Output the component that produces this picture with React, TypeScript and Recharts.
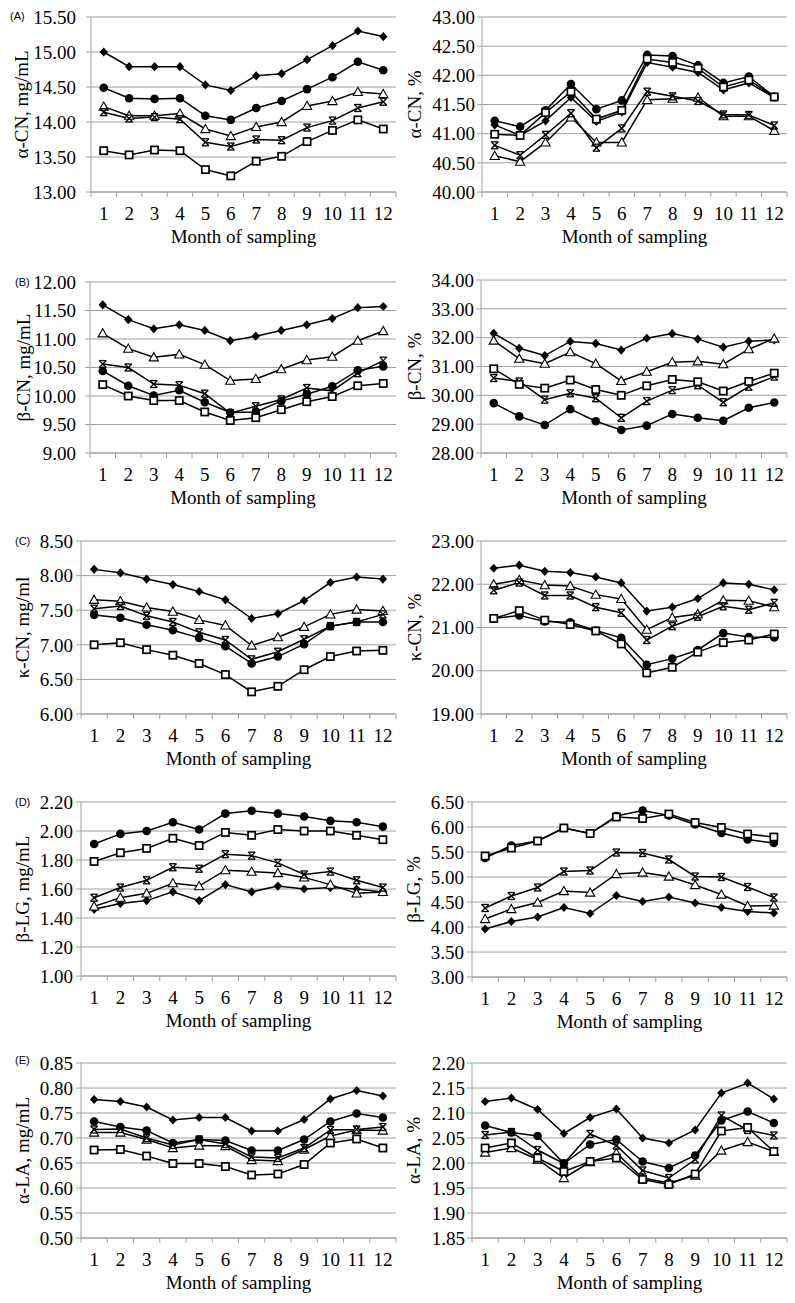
import React from 'react'
import { LineChart, Line, XAxis, YAxis, CartesianGrid } from 'recharts'

const months = [1, 2, 3, 4, 5, 6, 7, 8, 9, 10, 11, 12]

// (A) α-CN, mg/mL
const aCnMgDiamond = [15.0, 14.79, 14.79, 14.79, 14.53, 14.45, 14.66, 14.69, 14.89, 15.09, 15.3, 15.22]
const aCnMgCircle = [14.49, 14.34, 14.33, 14.34, 14.09, 14.03, 14.2, 14.3, 14.47, 14.64, 14.86, 14.74]
const aCnMgTriangle = [14.22, 14.09, 14.09, 14.12, 13.9, 13.8, 13.93, 14.0, 14.23, 14.3, 14.43, 14.4]
const aCnMgStar = [14.14, 14.05, 14.07, 14.04, 13.71, 13.65, 13.75, 13.74, 13.92, 14.02, 14.2, 14.29]
const aCnMgSquare = [13.59, 13.53, 13.6, 13.59, 13.32, 13.23, 13.44, 13.51, 13.72, 13.88, 14.03, 13.9]

// α-CN, %
const aCnPctDiamond = [41.15, 40.97, 41.22, 41.62, 41.21, 41.37, 42.22, 42.14, 42.05, 41.75, 41.87, 41.62]
const aCnPctCircle = [41.22, 41.12, 41.4, 41.85, 41.42, 41.57, 42.35, 42.33, 42.17, 41.87, 41.98, 41.63]
const aCnPctTriangle = [40.62, 40.52, 40.85, 41.28, 40.85, 40.85, 41.58, 41.6, 41.62, 41.3, 41.3, 41.05]
const aCnPctStar = [40.8, 40.63, 40.98, 41.35, 40.76, 41.09, 41.72, 41.64, 41.56, 41.33, 41.32, 41.14]
const aCnPctSquare = [40.99, 40.97, 41.36, 41.72, 41.25, 41.4, 42.28, 42.22, 42.12, 41.8, 41.92, 41.63]

// (B) β-CN, mg/mL
const bCnMgDiamond = [11.6, 11.34, 11.18, 11.25, 11.15, 10.97, 11.05, 11.15, 11.25, 11.36, 11.55, 11.57]
const bCnMgCircle = [10.44, 10.18, 10.01, 10.1, 9.89, 9.71, 9.72, 9.91, 10.03, 10.17, 10.45, 10.52]
const bCnMgTriangle = [11.1, 10.83, 10.68, 10.73, 10.55, 10.27, 10.3, 10.47, 10.63, 10.69, 10.97, 11.14]
const bCnMgStar = [10.56, 10.5, 10.21, 10.19, 10.04, 9.7, 9.82, 9.94, 10.14, 10.09, 10.4, 10.62]
const bCnMgSquare = [10.2, 10.0, 9.92, 9.92, 9.72, 9.57, 9.62, 9.76, 9.9, 9.99, 10.18, 10.22]

// β-CN, %
const bCnPctDiamond = [32.15, 31.63, 31.38, 31.87, 31.8, 31.57, 31.98, 32.14, 31.95, 31.67, 31.88, 31.92]
const bCnPctCircle = [29.73, 29.27, 28.97, 29.52, 29.1, 28.8, 28.95, 29.35, 29.22, 29.12, 29.57, 29.75]
const bCnPctTriangle = [31.9, 31.27, 31.1, 31.5, 31.1, 30.5, 30.82, 31.15, 31.18, 31.08, 31.6, 31.97]
const bCnPctStar = [30.6, 30.48, 29.85, 30.07, 29.9, 29.22, 29.8, 30.18, 30.35, 29.76, 30.3, 30.65]
const bCnPctSquare = [30.92, 30.38, 30.25, 30.53, 30.2, 30.0, 30.33, 30.55, 30.47, 30.15, 30.48, 30.77]

// (C) κ-CN, mg/ml
const kCnMgDiamond = [8.09, 8.04, 7.95, 7.87, 7.77, 7.65, 7.38, 7.45, 7.64, 7.9, 7.98, 7.95]
const kCnMgCircle = [7.43, 7.39, 7.29, 7.21, 7.1, 6.98, 6.73, 6.83, 7.01, 7.27, 7.33, 7.33]
const kCnMgTriangle = [7.65, 7.63, 7.54, 7.48, 7.36, 7.28, 6.99, 7.11, 7.26, 7.44, 7.51, 7.49]
const kCnMgStar = [7.52, 7.56, 7.42, 7.33, 7.18, 7.07, 6.79, 6.9, 7.08, 7.27, 7.33, 7.44]
const kCnMgSquare = [7.0, 7.03, 6.93, 6.85, 6.73, 6.57, 6.32, 6.4, 6.64, 6.83, 6.91, 6.92]

// κ-CN, %
const kCnPctDiamond = [22.37, 22.44, 22.3, 22.27, 22.17, 22.03, 21.38, 21.47, 21.67, 22.03, 22.0, 21.87]
const kCnPctCircle = [21.21, 21.28, 21.14, 21.12, 20.93, 20.76, 20.14, 20.28, 20.48, 20.87, 20.78, 20.77]
const kCnPctTriangle = [22.0, 22.1, 21.98, 21.96, 21.76, 21.66, 20.95, 21.23, 21.31, 21.63, 21.62, 21.47]
const kCnPctStar = [21.86, 22.04, 21.74, 21.74, 21.47, 21.34, 20.71, 21.03, 21.25, 21.49, 21.41, 21.57]
const kCnPctSquare = [21.21, 21.39, 21.17, 21.07, 20.92, 20.62, 19.95, 20.08, 20.43, 20.65, 20.71, 20.85]

// (D) β-LG, mg/mL
const bLgMgDiamond = [1.46, 1.5, 1.52, 1.58, 1.52, 1.63, 1.58, 1.62, 1.6, 1.61, 1.6, 1.58]
const bLgMgCircle = [1.91, 1.98, 2.0, 2.06, 2.01, 2.12, 2.14, 2.12, 2.1, 2.07, 2.06, 2.03]
const bLgMgTriangle = [1.48, 1.54, 1.57, 1.64, 1.62, 1.73, 1.72, 1.71, 1.68, 1.63, 1.57, 1.58]
const bLgMgStar = [1.54, 1.61, 1.66, 1.75, 1.74, 1.84, 1.83, 1.78, 1.7, 1.72, 1.66, 1.61]
const bLgMgSquare = [1.79, 1.85, 1.88, 1.95, 1.9, 1.99, 1.97, 2.01, 2.0, 2.0, 1.97, 1.94]

// β-LG, %
const bLgPctDiamond = [3.96, 4.11, 4.2, 4.39, 4.27, 4.63, 4.51, 4.6, 4.48, 4.39, 4.31, 4.28]
const bLgPctCircle = [5.38, 5.63, 5.72, 5.98, 5.87, 6.22, 6.33, 6.23, 6.05, 5.88, 5.75, 5.68]
const bLgPctTriangle = [4.16, 4.36, 4.49, 4.72, 4.69, 5.06, 5.09, 5.01, 4.84, 4.65, 4.42, 4.43]
const bLgPctStar = [4.38, 4.62, 4.79, 5.11, 5.13, 5.49, 5.48, 5.35, 5.01, 5.0, 4.8, 4.59]
const bLgPctSquare = [5.42, 5.58, 5.72, 5.98, 5.87, 6.2, 6.17, 6.26, 6.09, 5.99, 5.86, 5.8]

// (E) α-LA, mg/mL
const aLaMgDiamond = [0.777, 0.773, 0.762, 0.736, 0.741, 0.741, 0.714, 0.714, 0.737, 0.778, 0.795, 0.784]
const aLaMgCircle = [0.733, 0.722, 0.715, 0.69, 0.697, 0.695, 0.675, 0.675, 0.697, 0.733, 0.749, 0.741]
const aLaMgTriangle = [0.711, 0.711, 0.697, 0.68, 0.685, 0.684, 0.656, 0.654, 0.677, 0.704, 0.716, 0.715]
const aLaMgStar = [0.717, 0.718, 0.7, 0.686, 0.697, 0.688, 0.662, 0.66, 0.68, 0.716, 0.717, 0.722]
const aLaMgSquare = [0.676, 0.677, 0.664, 0.649, 0.649, 0.643, 0.626, 0.628, 0.647, 0.69, 0.698, 0.68]

// α-LA, %
const aLaPctDiamond = [2.123, 2.13, 2.107, 2.059, 2.091, 2.108, 2.05, 2.04, 2.066, 2.14, 2.16, 2.128]
const aLaPctCircle = [2.075, 2.061, 2.054, 1.999, 2.037, 2.047, 2.003, 1.99, 2.015, 2.085, 2.103, 2.08]
const aLaPctTriangle = [2.021, 2.03, 2.007, 1.97, 2.002, 2.02, 1.97, 1.96, 1.975, 2.025, 2.042, 2.023]
const aLaPctStar = [2.056, 2.062, 2.026, 1.999, 2.058, 2.035, 1.985, 1.97, 2.007, 2.095, 2.066, 2.055]
const aLaPctSquare = [2.03, 2.04, 2.01, 1.983, 2.003, 2.01, 1.967, 1.957, 1.978, 2.064, 2.071, 2.023]

const GRID = '#a0a0a0'
const SERIF = '"Liberation Serif", "Times New Roman", serif'
const X_AXIS_H = 58

type Shape = 'diamond' | 'circle' | 'triangle' | 'star' | 'square'
const shapes: Shape[] = ['diamond', 'circle', 'triangle', 'star', 'square']

type Panel = {
  tag?: string
  tagX?: number
  tagY?: number
  yLabel: string
  ticks: number[]
  left: number
  top: number
  width: number
  yWidth: number
  marginTop: number
  marginRight: number
  plotH: number
  tickGap: number
  labelX: number
  series: Record<Shape, number[]>
}

const panels: Panel[] = [
  {
    tag: '(A)', tagX: 10, tagY: 11, yLabel: 'α-CN, mg/mL',
    ticks: [13, 13.5, 14, 14.5, 15, 15.5],
    left: 0, top: 0, width: 400, yWidth: 91, marginTop: 17, marginRight: 4, plotH: 175, tickGap: 10, labelX: 21,
    series: { diamond: aCnMgDiamond, circle: aCnMgCircle, triangle: aCnMgTriangle, star: aCnMgStar, square: aCnMgSquare },
  },
  {
    yLabel: 'α-CN, %',
    ticks: [40, 40.5, 41, 41.5, 42, 42.5, 43],
    left: 400, top: 0, width: 395, yWidth: 82, marginTop: 17, marginRight: 8, plotH: 175, tickGap: 2, labelX: 14,
    series: { diamond: aCnPctDiamond, circle: aCnPctCircle, triangle: aCnPctTriangle, star: aCnPctStar, square: aCnPctSquare },
  },
  {
    tag: '(B)', tagX: 15, tagY: 277, yLabel: 'β-CN, mg/mL',
    ticks: [9, 9.5, 10, 10.5, 11, 11.5, 12],
    left: 0, top: 250, width: 400, yWidth: 90, marginTop: 32, marginRight: 4, plotH: 171, tickGap: 9, labelX: 23,
    series: { diamond: bCnMgDiamond, circle: bCnMgCircle, triangle: bCnMgTriangle, star: bCnMgStar, square: bCnMgSquare },
  },
  {
    yLabel: 'β-CN, %',
    ticks: [28, 29, 30, 31, 32, 33, 34],
    left: 400, top: 250, width: 395, yWidth: 81, marginTop: 30, marginRight: 8, plotH: 173, tickGap: 2, labelX: 14,
    series: { diamond: bCnPctDiamond, circle: bCnPctCircle, triangle: bCnPctTriangle, star: bCnPctStar, square: bCnPctSquare },
  },
  {
    tag: '(C)', tagX: 15, tagY: 536, yLabel: 'κ-CN, mg/ml',
    ticks: [6, 6.5, 7, 7.5, 8, 8.5],
    left: 0, top: 510, width: 400, yWidth: 81, marginTop: 31, marginRight: 4, plotH: 173, tickGap: 3, labelX: 22,
    series: { diamond: kCnMgDiamond, circle: kCnMgCircle, triangle: kCnMgTriangle, star: kCnMgStar, square: kCnMgSquare },
  },
  {
    yLabel: 'κ-CN, %',
    ticks: [19, 20, 21, 22, 23],
    left: 400, top: 510, width: 395, yWidth: 81, marginTop: 31, marginRight: 8, plotH: 173, tickGap: 2, labelX: 14,
    series: { diamond: kCnPctDiamond, circle: kCnPctCircle, triangle: kCnPctTriangle, star: kCnPctStar, square: kCnPctSquare },
  },
  {
    tag: '(D)', tagX: 15, tagY: 797, yLabel: 'β-LG, mg/mL',
    ticks: [1, 1.2, 1.4, 1.6, 1.8, 2, 2.2],
    left: 0, top: 770, width: 400, yWidth: 81, marginTop: 32, marginRight: 4, plotH: 174, tickGap: 3, labelX: 22,
    series: { diamond: bLgMgDiamond, circle: bLgMgCircle, triangle: bLgMgTriangle, star: bLgMgStar, square: bLgMgSquare },
  },
  {
    yLabel: 'β-LG, %',
    ticks: [3, 3.5, 4, 4.5, 5, 5.5, 6, 6.5],
    left: 400, top: 770, width: 395, yWidth: 72, marginTop: 32, marginRight: 8, plotH: 175, tickGap: 3, labelX: 13,
    series: { diamond: bLgPctDiamond, circle: bLgPctCircle, triangle: bLgPctTriangle, star: bLgPctStar, square: bLgPctSquare },
  },
  {
    tag: '(E)', tagX: 15, tagY: 1055, yLabel: 'α-LA, mg/mL',
    ticks: [0.5, 0.55, 0.6, 0.65, 0.7, 0.75, 0.8, 0.85],
    left: 0, top: 1035, width: 400, yWidth: 81, marginTop: 28, marginRight: 4, plotH: 175, tickGap: 3, labelX: 22,
    series: { diamond: aLaMgDiamond, circle: aLaMgCircle, triangle: aLaMgTriangle, star: aLaMgStar, square: aLaMgSquare },
  },
  {
    yLabel: 'α-LA, %',
    ticks: [1.85, 1.9, 1.95, 2, 2.05, 2.1, 2.15, 2.2],
    left: 400, top: 1035, width: 395, yWidth: 72, marginTop: 28, marginRight: 8, plotH: 175, tickGap: 2, labelX: 13,
    series: { diamond: aLaPctDiamond, circle: aLaPctCircle, triangle: aLaPctTriangle, star: aLaPctStar, square: aLaPctSquare },
  },
]

// boundary ticks sit between months, like the category axis in the original
const xTicks = [...months.map((m) => m - 0.5), 12.5, ...months]

function MonthTick(props: any) {
  const { x, y, payload } = props
  const v = payload.value
  if (Number.isInteger(v)) {
    return (
      <text x={x} y={y + 28} textAnchor="middle" fontSize={19} fontFamily={SERIF} fill="#000">
        {v}
      </text>
    )
  }
  return <line x1={x} y1={y} x2={x} y2={y + 5} stroke={GRID} strokeWidth={1} />
}

function Marker({ shape, cx, cy }: { shape: Shape; cx: number; cy: number }) {
  if (cx == null || cy == null) return null
  switch (shape) {
    case 'diamond':
      return <polygon points={`${cx},${cy - 4.6} ${cx + 4.2},${cy} ${cx},${cy + 4.6} ${cx - 4.2},${cy}`} fill="#000" />
    case 'circle':
      return <circle cx={cx} cy={cy} r={4.3} fill="#000" />
    case 'triangle':
      return (
        <polygon
          points={`${cx},${cy - 4.6} ${cx + 4.6},${cy + 3.6} ${cx - 4.6},${cy + 3.6}`}
          fill="#fff"
          stroke="#000"
          strokeWidth={1.1}
        />
      )
    case 'square':
      return <rect x={cx - 3.6} y={cy - 3.6} width={7.2} height={7.2} fill="#fff" stroke="#000" strokeWidth={1.7} />
    case 'star':
      return (
        <g stroke="#000" strokeWidth={1.3} fill="none">
          <line x1={cx - 3.5} y1={cy - 3.5} x2={cx + 3.5} y2={cy + 3.5} />
          <line x1={cx + 3.5} y1={cy - 3.5} x2={cx - 3.5} y2={cy + 3.5} />
          <line x1={cx - 3.5} y1={cy - 3.5} x2={cx + 3.5} y2={cy - 3.5} />
          <line x1={cx - 3.5} y1={cy + 3.5} x2={cx + 3.5} y2={cy + 3.5} />
        </g>
      )
  }
  return null
}

function PanelChart({ p }: { p: Panel }) {
  const data = months.map((m, i) => ({
    m,
    diamond: p.series.diamond[i],
    circle: p.series.circle[i],
    triangle: p.series.triangle[i],
    star: p.series.star[i],
    square: p.series.square[i],
  }))
  const height = p.marginTop + p.plotH + X_AXIS_H
  const lo = p.ticks[0]
  const hi = p.ticks[p.ticks.length - 1]

  return (
    <div style={{ position: 'absolute', left: p.left, top: p.top, width: p.width, height }}>
      <LineChart width={p.width} height={height} data={data} margin={{ top: p.marginTop, right: p.marginRight, bottom: 0, left: 0 }}>
        <CartesianGrid vertical={false} stroke={GRID} strokeWidth={1} />
        <XAxis
          dataKey="m"
          type="number"
          domain={[0.5, 12.5]}
          ticks={xTicks}
          interval={0}
          height={X_AXIS_H}
          axisLine={{ stroke: GRID }}
          tickLine={false}
          tickSize={0}
          tickMargin={0}
          tick={<MonthTick />}
          label={(lp: any) => {
            const vb = lp.viewBox || {}
            return (
              <text x={vb.x + vb.width / 2} y={vb.y + 51} textAnchor="middle" fontSize={19} fontFamily={SERIF} fill="#000">
                Month of sampling
              </text>
            )
          }}
        />
        <YAxis
          type="number"
          domain={[lo, hi]}
          ticks={p.ticks}
          interval={0}
          width={p.yWidth}
          axisLine={{ stroke: GRID }}
          tickLine={{ stroke: GRID }}
          tickSize={5}
          tickMargin={p.tickGap}
          tickFormatter={(v: number) => v.toFixed(2)}
          tick={{ fill: '#000', fontSize: 19, fontFamily: SERIF }}
          label={(lp: any) => {
            const vb = lp.viewBox || {}
            const cy = vb.y + vb.height / 2
            return (
              <text
                x={p.labelX}
                y={cy}
                transform={`rotate(-90 ${p.labelX} ${cy})`}
                textAnchor="middle"
                dominantBaseline="central"
                fontSize={19}
                fontFamily={SERIF}
                fill="#000"
              >
                {p.yLabel}
              </text>
            )
          }}
        />
        {shapes.map((s) => (
          <Line
            key={s}
            dataKey={s}
            type="linear"
            stroke="#000"
            strokeWidth={1.5}
            isAnimationActive={false}
            activeDot={false}
            dot={(dp: any) => <Marker key={`${s}-${dp.index}`} shape={s} cx={dp.cx} cy={dp.cy} />}
          />
        ))}
      </LineChart>
      {p.tag && (
        <div
          style={{
            position: 'absolute',
            left: p.tagX! - p.left,
            top: p.tagY! - p.top,
            fontFamily: '"Liberation Sans", Arial, sans-serif',
            fontSize: 11,
            lineHeight: '11px',
            color: '#000',
          }}
        >
          {p.tag}
        </div>
      )}
    </div>
  )
}

export default function App() {
  return (
    <div style={{ position: 'absolute', left: 0, top: 0, width: 795, height: 1303, background: '#fff' }}>
      {panels.map((p, i) => (
        <PanelChart key={i} p={p} />
      ))}
    </div>
  )
}
